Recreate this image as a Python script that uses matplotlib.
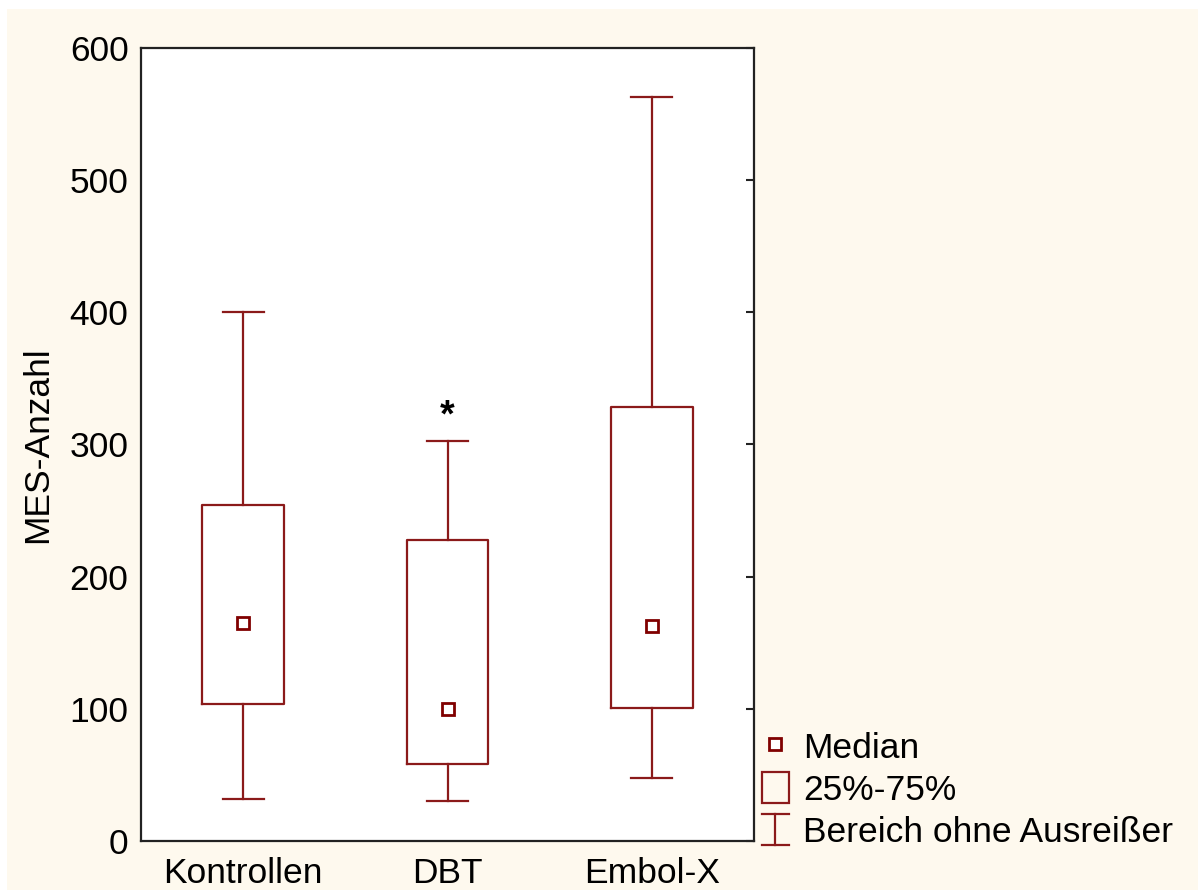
import matplotlib.pyplot as plt
from matplotlib.patches import Rectangle
from matplotlib.lines import Line2D
from matplotlib.legend_handler import HandlerBase

plt.rcParams['font.family'] = ['Liberation Sans', 'DejaVu Sans']

# Werte
groups = ['Kontrollen', 'DBT', 'Embol-X']
median = [165, 100, 163]
q1 = [104, 58, 101]
q3 = [254, 228, 328]
whis_lo = [32, 30, 48]
whis_hi = [400, 303, 563]
star_group = 2
star_y = 321

dark_red = '#8b1a1a'
marker_red = '#800000'
cream = '#fef9ee'
fs = 25.5

fig = plt.figure(figsize=(12.02, 8.94), dpi=100)
fig.patches.append(Rectangle((7 / 1202, 1 - 890 / 894), 1191 / 1202, 881 / 894,
                             transform=fig.transFigure, facecolor=cream,
                             edgecolor='none', zorder=-10))
ax = fig.add_axes([141 / 1202, 1 - 841 / 894, 613 / 1202, 793 / 894])
ax.set_facecolor('white')

stats = []
for i, g in enumerate(groups):
    stats.append({'label': g, 'med': median[i], 'q1': q1[i], 'q3': q3[i],
                  'whislo': whis_lo[i], 'whishi': whis_hi[i], 'fliers': []})

pos = list(range(1, len(groups) + 1))
line = {'color': dark_red, 'linewidth': 1.6}
ax.bxp(stats, positions=pos, widths=0.4, capwidths=0.2, showfliers=False,
       boxprops=line, whiskerprops=line, capprops=line,
       medianprops={'linewidth': 0})
ax.plot(pos, median, linestyle='none', marker='s', markersize=8,
        markerfacecolor='white', markeredgecolor=marker_red, markeredgewidth=2)

ax.text(star_group, star_y, '*', ha='center', va='center', fontsize=27,
        fontweight='bold')

ax.set_xlim(0.5, 3.5)
ax.set_ylim(0, 600)
ax.set_yticks([0, 100, 200, 300, 400, 500, 600])
ax.set_xticks(pos)
ax.set_xticklabels(groups)
ax.tick_params(axis='y', left=False, right=True, direction='in', length=6,
               width=1.5, color='#222222', labelsize=fs, pad=9)
ax.tick_params(axis='x', bottom=False, labelsize=fs, pad=8)
ax.set_ylabel('MES-Anzahl', fontsize=fs, labelpad=11)
for s in ax.spines.values():
    s.set_linewidth(1.6)
    s.set_color('#222222')

# Legendensymbole etwas tiefer setzen, damit sie mittig zum Text stehen
shift = 5


class WhiskerHandler(HandlerBase):
    def create_artists(self, legend, orig, xd, yd, w, h, fontsize, trans):
        cx = xd + w / 2
        y0 = yd - shift
        return [Line2D([cx, cx], [y0, y0 + h], color=dark_red, lw=1.6, transform=trans),
                Line2D([xd, xd + w], [y0, y0], color=dark_red, lw=1.6, transform=trans),
                Line2D([xd, xd + w], [y0 + h, y0 + h], color=dark_red, lw=1.6, transform=trans)]


class BoxHandler(HandlerBase):
    def create_artists(self, legend, orig, xd, yd, w, h, fontsize, trans):
        return [Rectangle((xd, yd - shift), w, h, facecolor='none', edgecolor=dark_red,
                          lw=1.6, transform=trans)]


h_med = Line2D([], [], linestyle='none', marker='s', markersize=8,
               markerfacecolor='white', markeredgecolor=marker_red, markeredgewidth=2)
h_box = Rectangle((0, 0), 1, 1)
h_whis = Line2D([], [])
fig.legend([h_med, h_box, h_whis], ['Median', '25%-75%', 'Bereich ohne Ausreißer'],
           handler_map={h_box: BoxHandler(), h_whis: WhiskerHandler()},
           loc='upper left', bbox_to_anchor=(762 / 1202, 1 - 730 / 894),
           frameon=False, fontsize=fs, borderpad=0, borderaxespad=0,
           handlelength=0.76, handleheight=1.0, handletextpad=0.4,
           labelspacing=0.2)

fig.savefig('out.png', dpi=100)
